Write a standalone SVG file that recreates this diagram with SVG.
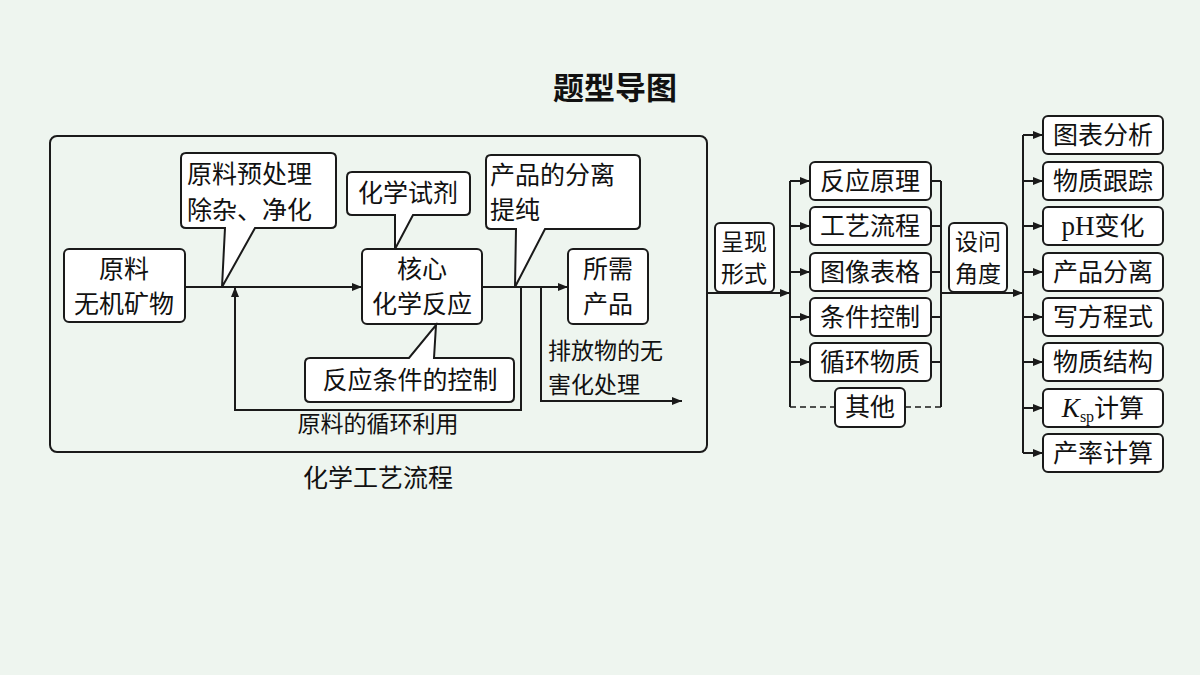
<svg xmlns="http://www.w3.org/2000/svg" width="1200" height="675" viewBox="0 0 1200 675">
<defs>
<marker id="ar" viewBox="0 0 10 10" refX="10" refY="5" markerWidth="10" markerHeight="10" markerUnits="userSpaceOnUse" orient="auto"><path d="M0,1 L10,5 L0,9 Z" fill="#1a1a1a"/></marker>
</defs>
<style>
.b{fill:#ffffff;stroke:#1a1a1a;stroke-width:2}
.l{fill:none;stroke:#1a1a1a;stroke-width:2}
.d{fill:none;stroke:#1a1a1a;stroke-width:1.6;stroke-dasharray:6,4}
text{font-family:"Noto Sans CJK SC","Liberation Serif",sans-serif;font-size:25px;fill:#111}
.c{text-anchor:middle}
</style>
<rect width="1200" height="675" fill="#eef5ef"/>
<text x="615" y="99" class="c" style="font-size:31px;font-weight:bold">题型导图</text>
<rect x="50" y="136" width="657" height="316" rx="7" class="b" style="fill:none"/>
<text x="378" y="487" class="c">化学工艺流程</text>
<g id="connectors">
<path d="M185,287 H362" class="l" marker-end="url(#ar)"/>
<path d="M482,287 H568" class="l" marker-end="url(#ar)"/>
<path d="M521,287 V410 H235 V287" class="l" marker-end="url(#ar)"/>
<path d="M541,287 V401 H682" class="l" marker-end="url(#ar)"/>
<path d="M707,293 H790" class="l" marker-end="url(#ar)"/>
<path d="M790,181 V407" class="l"/>
<path d="M790,181 H810" class="l" marker-end="url(#ar)"/>
<path d="M790,226 H810" class="l" marker-end="url(#ar)"/>
<path d="M790,272 H810" class="l" marker-end="url(#ar)"/>
<path d="M790,317 H810" class="l" marker-end="url(#ar)"/>
<path d="M790,362 H810" class="l" marker-end="url(#ar)"/>
<path d="M931,181 H941 M931,226 H941 M931,272 H941 M931,317 H941 M931,362 H941 M941,181 V407" class="l"/>
<path d="M790,407 H835 M905,407 H941" class="d"/>
<path d="M941,293 H1023" class="l" marker-end="url(#ar)"/>
<path d="M1023,135 V453" class="l"/>
<path d="M1023,135 H1043" class="l" marker-end="url(#ar)"/>
<path d="M1023,181 H1043" class="l" marker-end="url(#ar)"/>
<path d="M1023,226 H1043" class="l" marker-end="url(#ar)"/>
<path d="M1023,272 H1043" class="l" marker-end="url(#ar)"/>
<path d="M1023,317 H1043" class="l" marker-end="url(#ar)"/>
<path d="M1023,362 H1043" class="l" marker-end="url(#ar)"/>
<path d="M1023,408 H1043" class="l" marker-end="url(#ar)"/>
<path d="M1023,453 H1043" class="l" marker-end="url(#ar)"/>
</g>
<g id="n-raw"><rect x="64" y="249" width="121" height="73" rx="5" class="b"/><text x="124" y="278" class="c">原料</text><text x="124" y="313" class="c">无机矿物</text></g>
<g id="n-pre"><path d="M186,153 H331 Q336,153 336,158 V223 Q336,228 331,228 H255 L222,287 L225,228 H186 Q181,228 181,223 V158 Q181,153 186,153 Z" class="b"/><text x="187" y="183">原料预处理</text><text x="187" y="219">除杂、净化</text></g>
<g id="n-reag"><path d="M352,172 H465 Q470,172 470,177 V210 Q470,215 465,215 H413 L395,249 L395,215 H352 Q347,215 347,210 V177 Q347,172 352,172 Z" class="b"/><text x="408" y="202" class="c">化学试剂</text></g>
<g id="n-core"><rect x="362" y="249" width="120" height="75" rx="5" class="b"/><text x="422" y="278" class="c">核心</text><text x="422" y="313" class="c">化学反应</text></g>
<g id="n-cond"><path d="M310,358 H409 L436,325 L434,358 H509 Q514,358 514,363 V397 Q514,402 509,402 H310 Q305,402 305,397 V363 Q305,358 310,358 Z" class="b"/><text x="410" y="389" class="c">反应条件的控制</text></g>
<g id="n-sep"><path d="M491,155 H635 Q640,155 640,160 V224 Q640,229 635,229 H545 L515,287 L516,229 H491 Q486,229 486,224 V160 Q486,155 491,155 Z" class="b"/><text x="490" y="184">产品的分离</text><text x="490" y="219">提纯</text></g>
<g id="n-prod"><rect x="568" y="249" width="80" height="75" rx="5" class="b"/><text x="608" y="278" class="c">所需</text><text x="608" y="313" class="c">产品</text></g>
<text x="548" y="359" style="font-size:23px">排放物的无</text>
<text x="548" y="393" style="font-size:23px">害化处理</text>
<text x="378" y="432" class="c" style="font-size:23px">原料的循环利用</text>
<g id="n-form"><rect x="715" y="223" width="59" height="69" rx="5" class="b"/><text x="744" y="250" class="c" style="font-size:23px">呈现</text><text x="744" y="282" class="c" style="font-size:23px">形式</text></g>
<g id="n-m1"><rect x="810" y="162" width="121" height="38" rx="5" class="b"/><text x="870" y="190" class="c">反应原理</text></g>
<g id="n-m2"><rect x="810" y="207" width="121" height="38" rx="5" class="b"/><text x="870" y="235" class="c">工艺流程</text></g>
<g id="n-m3"><rect x="810" y="253" width="121" height="38" rx="5" class="b"/><text x="870" y="281" class="c">图像表格</text></g>
<g id="n-m4"><rect x="810" y="298" width="121" height="38" rx="5" class="b"/><text x="870" y="326" class="c">条件控制</text></g>
<g id="n-m5"><rect x="810" y="343" width="121" height="38" rx="5" class="b"/><text x="870" y="371" class="c">循环物质</text></g>
<g id="n-m6"><rect x="835" y="388" width="70" height="39" rx="5" class="b"/><text x="870" y="416" class="c">其他</text></g>
<g id="n-ask"><rect x="949" y="223" width="58" height="69" rx="5" class="b"/><text x="978" y="250" class="c" style="font-size:23px">设问</text><text x="978" y="282" class="c" style="font-size:23px">角度</text></g>
<g id="n-r1"><rect x="1043" y="116" width="120" height="38" rx="5" class="b"/><text x="1103" y="144" class="c">图表分析</text></g>
<g id="n-r2"><rect x="1043" y="162" width="120" height="38" rx="5" class="b"/><text x="1103" y="190" class="c">物质跟踪</text></g>
<g id="n-r3"><rect x="1043" y="207" width="120" height="38" rx="5" class="b"/><text x="1103" y="235" class="c"><tspan style="font-family:'Liberation Serif',serif;font-size:27px">pH</tspan>变化</text></g>
<g id="n-r4"><rect x="1043" y="253" width="120" height="38" rx="5" class="b"/><text x="1103" y="281" class="c">产品分离</text></g>
<g id="n-r5"><rect x="1043" y="298" width="120" height="38" rx="5" class="b"/><text x="1103" y="326" class="c">写方程式</text></g>
<g id="n-r6"><rect x="1043" y="343" width="120" height="38" rx="5" class="b"/><text x="1103" y="371" class="c">物质结构</text></g>
<g id="n-r7"><rect x="1043" y="389" width="120" height="38" rx="5" class="b"/><text x="1103" y="417" class="c"><tspan style="font-family:'Liberation Serif',serif;font-style:italic;font-size:27px">K</tspan><tspan style="font-family:'Liberation Serif',serif;font-size:16px" dy="5">sp</tspan><tspan dy="-5">计算</tspan></text></g>
<g id="n-r8"><rect x="1043" y="434" width="120" height="38" rx="5" class="b"/><text x="1103" y="462" class="c">产率计算</text></g>
</svg>
